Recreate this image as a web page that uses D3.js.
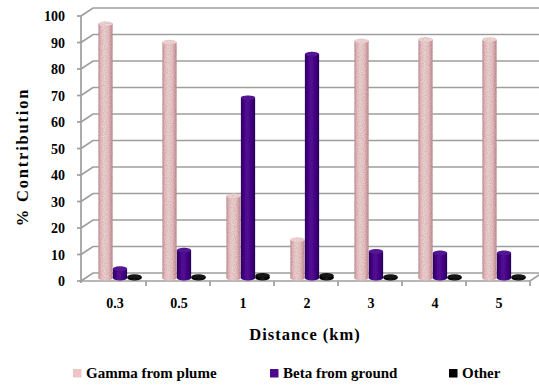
<!DOCTYPE html>
<html>
<head>
<meta charset="utf-8">
<script src="https://cdn.jsdelivr.net/npm/d3@7"></script>
<style>
  body { margin: 0; background: #fff; }
  svg { display: block; }
</style>
</head>
<body>
<svg id="chart" width="539" height="385"></svg>
<script>
// Share of dose by pathway at each downwind distance (%)
const categories = ["0.3", "0.5", "1", "2", "3", "4", "5"];
const gammaPlume = [96, 89, 31, 14.5, 89.5, 90, 90];
const betaGround = [3.5, 10.5, 68, 84.5, 10, 9.5, 9.5];
const otherPath = [0.5, 0.5, 1, 1, 0.5, 0.5, 0.5];
const yTicks = [0, 10, 20, 30, 40, 50, 60, 70, 80, 90, 100];
const seriesNames = ["Gamma from plume", "Beta from ground", "Other"];

const FONT = "'Liberation Serif', 'Times New Roman', serif";

const series = [
  { name: seriesNames[0], values: gammaPlume, grad: "gPink", top: "#f6dadb", key: "#f0c4c6" },
  { name: seriesNames[1], values: betaGround, grad: "gPurple", top: "#5a1c9c", key: "#4b0c8c" },
  { name: seriesNames[2], values: otherPath, grad: "gBlack", top: "#1a1a1a", key: "#000000" }
];

const svg = d3.select("#chart");

// front plane scales; the back wall and the bar row sit behind it
const x = d3.scaleBand().domain(categories).range([82, 530]).padding(0);
const y = d3.scaleLinear().domain([0, 100]).range([281, 16]);
const back = { dx: 12, dy: -8 };
const mid = { dx: 6, dy: -3 };
const axisX = 81;

const defs = svg.append("defs");
function hGrad(id, stops) {
  const g = defs.append("linearGradient").attr("id", id)
    .attr("x1", "0%").attr("x2", "100%").attr("y1", "0%").attr("y2", "0%");
  stops.forEach(([o, c]) => g.append("stop").attr("offset", o).attr("stop-color", c));
}
hGrad("gPink", [[0, "#c9959a"], [0.18, "#ebc2c4"], [0.4, "#f5d6d7"], [0.7, "#efc7c9"], [1, "#c48f93"]]);
hGrad("gPurple", [[0, "#2f0563"], [0.25, "#4d0e90"], [0.45, "#5a199e"], [0.75, "#470b88"], [1, "#2a055a"]]);
hGrad("gBlack", [[0, "#000"], [0.5, "#222"], [1, "#000"]]);

// fine grain on the column surfaces
const grain = defs.append("filter").attr("id", "grain")
  .attr("x", "0").attr("y", "0").attr("width", "1").attr("height", "1");
grain.append("feTurbulence").attr("type", "fractalNoise")
  .attr("baseFrequency", "0.9").attr("numOctaves", 2).attr("seed", 3).attr("result", "n");
grain.append("feColorMatrix").attr("in", "n").attr("type", "matrix")
  .attr("values", "0 0 0 0 0  0 0 0 0 0  0 0 0 0 0  0 0 0 0.45 -0.1").attr("result", "a");
grain.append("feComposite").attr("in", "a").attr("in2", "SourceGraphic")
  .attr("operator", "in").attr("result", "g");
const fm = grain.append("feMerge");
fm.append("feMergeNode").attr("in", "SourceGraphic");
fm.append("feMergeNode").attr("in", "g");

// back wall gridlines with their diagonal connectors to the value axis
const grid = svg.append("g").attr("stroke", "#9e9e9e").attr("stroke-width", 1.7).attr("fill", "none");
yTicks.forEach(t => {
  const yf = y(t), yb = y(t) + back.dy;
  grid.append("path")
    .attr("d", `M${axisX},${yf}L${axisX + back.dx},${yb}L539,${yb}`);
});

// floor front edge, right edge and category ticks
const floor = svg.append("g").attr("stroke", "#9e9e9e").attr("stroke-width", 1.7).attr("fill", "none");
floor.append("path")
  .attr("d", `M${axisX},${y(0)}L${x.range()[1]},${y(0)}L${x.range()[1] + back.dx},${y(0) + back.dy}`);
categories.forEach((c, i) => {
  if (i === 0) return;
  floor.append("line").attr("x1", x(c)).attr("x2", x(c))
    .attr("y1", y(0)).attr("y2", y(0) + 5);
});
floor.append("line").attr("x1", x.range()[1]).attr("x2", x.range()[1])
  .attr("y1", y(0)).attr("y2", y(0) + 5);

// value axis line and ticks
const yAxis = svg.append("g").attr("stroke", "#9e9e9e").attr("stroke-width", 1.7);
yAxis.append("line").attr("x1", axisX).attr("x2", axisX)
  .attr("y1", y(100)).attr("y2", y(0) + 2);
yTicks.forEach(t => {
  yAxis.append("line").attr("x1", axisX - 4).attr("x2", axisX)
    .attr("y1", y(t)).attr("y2", y(t));
});

const texts = svg.append("g").attr("font-family", FONT).attr("fill", "#000");

texts.append("g").selectAll("text").data(yTicks).join("text")
  .attr("x", 65).attr("y", d => y(d) + 5)
  .attr("text-anchor", "end")
  .attr("font-size", 14).attr("font-weight", "bold")
  .text(d => d);

// columns drawn as cylinders on the middle row of the box
const barW = 14.2;
const ry = 2.4;
const yBar = v => y(v) + mid.dy;
const bars = svg.append("g");
categories.forEach((c, i) => {
  const cx0 = x(c) + x.bandwidth() / 2 + mid.dx;
  series.forEach((s, k) => {
    const v = s.values[i];
    const cx = cx0 + (k - 1) * 14.5;
    const yt = yBar(v), yb = yBar(0);
    const g = bars.append("g").attr("filter", "url(#grain)");
    g.append("ellipse").attr("cx", cx).attr("cy", yb).attr("rx", barW / 2).attr("ry", ry)
      .attr("fill", `url(#${s.grad})`);
    g.append("rect").attr("x", cx - barW / 2).attr("y", yt)
      .attr("width", barW).attr("height", Math.max(0, yb - yt))
      .attr("fill", `url(#${s.grad})`);
    g.append("ellipse").attr("cx", cx).attr("cy", yt).attr("rx", barW / 2).attr("ry", ry)
      .attr("fill", s.top);
  });
});

// category labels
texts.append("g").selectAll("text").data(categories).join("text")
  .attr("x", d => x(d) + x.bandwidth() / 2 + 1)
  .attr("y", 308)
  .attr("text-anchor", "middle")
  .attr("font-size", 14).attr("font-weight", "bold")
  .text(d => d);

// axis titles
texts.append("text")
  .attr("x", 305).attr("y", 340)
  .attr("text-anchor", "middle")
  .attr("font-size", 16.5).attr("font-weight", "bold").attr("letter-spacing", 1)
  .text("Distance (km)");

texts.append("text")
  .attr("transform", "translate(28,157) rotate(-90)")
  .attr("text-anchor", "middle")
  .attr("font-size", 16.5).attr("font-weight", "bold").attr("letter-spacing", 1.8)
  .text("% Contribution");

// legend
const legendX = [73, 270, 449];
const legend = texts.append("g");
series.forEach((s, k) => {
  legend.append("rect").attr("x", legendX[k]).attr("y", 369)
    .attr("width", 8.5).attr("height", 8.5).attr("fill", s.key);
  legend.append("text").attr("x", legendX[k] + 13).attr("y", 378)
    .attr("font-size", 15).attr("font-weight", "bold")
    .text(s.name);
});
</script>
</body>
</html>
